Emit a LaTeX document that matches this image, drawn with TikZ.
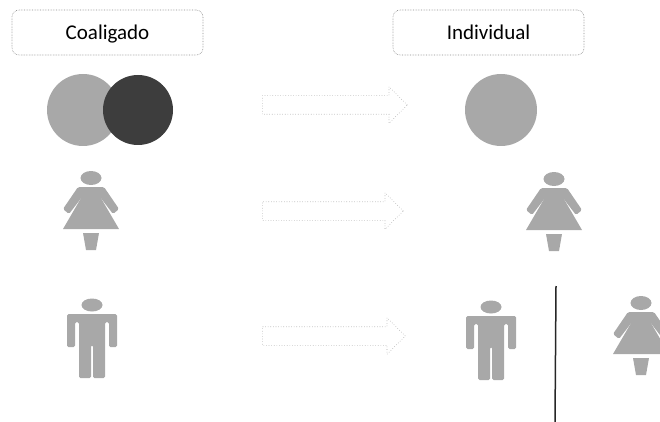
\documentclass[tikz,border=0pt]{standalone}
\usepackage{fontspec}
\setmainfont{Carlito}
\usetikzlibrary{shapes.arrows}

\definecolor{figgray}{gray}{0.66}
\definecolor{figdark}{gray}{0.24}
\tikzset{
  title/.style={draw=black!45, densely dotted, line width=0.6pt, rounded corners=7pt,
    minimum width=191pt, minimum height=45pt, inner sep=0pt, text height=14pt, text depth=0pt,
    font=\fontsize{21}{25}\selectfont},
  disc/.style={circle, fill=figgray, minimum size=72pt, inner sep=0pt},
  flow/.style={single arrow, draw=black!35, dotted, line width=0.6pt, inner xsep=0pt, inner ysep=9pt,
    single arrow head extend=9pt, single arrow head indent=0pt, anchor=tail},
  woman/.pic={
    \fill[figgray] (0,0) ellipse (10.5 and 7);
    \fill[figgray, rounded corners=1.5pt] (-13,9) -- (13,9) -- (28,31) -- (22,36) -- (9,19)
      -- (-9,19) -- (-22,36) -- (-28,31) -- cycle;
    \fill[figgray] (-7,15) -- (7,15) -- (28,51) -- (-28,51) -- cycle;
    \fill[figgray] (-8,55) -- (8,55) -- (5,72) -- (-5,72) -- cycle;
  },
  man/.pic={
    \fill[figgray] (0,0) ellipse (10.5 and 6.5);
    \fill[figgray, rounded corners=1.5pt] (-25,9) -- (25,9) -- (25,42) -- (17,42) -- (17,17)
      -- (13,17) -- (13,73) -- (1,73) -- (1,40) -- (-1,40) -- (-1,73) -- (-13,73) -- (-13,17)
      -- (-17,17) -- (-17,42) -- (-25,42) -- cycle;
  }
}

\begin{document}
\begin{tikzpicture}[x=1pt,y=-1pt]
  \clip (0,0) rectangle (660,422);

  \node[title] (coaligado) at (107.5,32.5) {Coaligado};
  \node[title] (individual) at (488.5,32.5) {Individual};

  \node[disc] (discleft) at (83,110) {};
  \node[disc, fill=figdark, minimum size=70pt] (discdark) at (138,110) {};
  \node[disc] (discright) at (501,110) {};

  \node[flow, minimum height=145pt] (flowa) at (262,105) {};
  \node[flow, minimum height=141pt] (flowb) at (262,211) {};
  \node[flow, minimum height=143pt] (flowc) at (262,336) {};

  \pic (womana) at (91,178) {woman};
  \pic (womanb) at (554,179) {woman};
  \pic (womanc) at (641,303) {woman};
  \pic (mana) at (92,305) {man};
  \pic (manb) at (491,307) {man};

  \coordinate (cuttop) at (556,286);
  \coordinate (cutbottom) at (555,422);
  \draw[black!85, line width=1.5pt] (cuttop) -- (cutbottom);
\end{tikzpicture}
\end{document}
